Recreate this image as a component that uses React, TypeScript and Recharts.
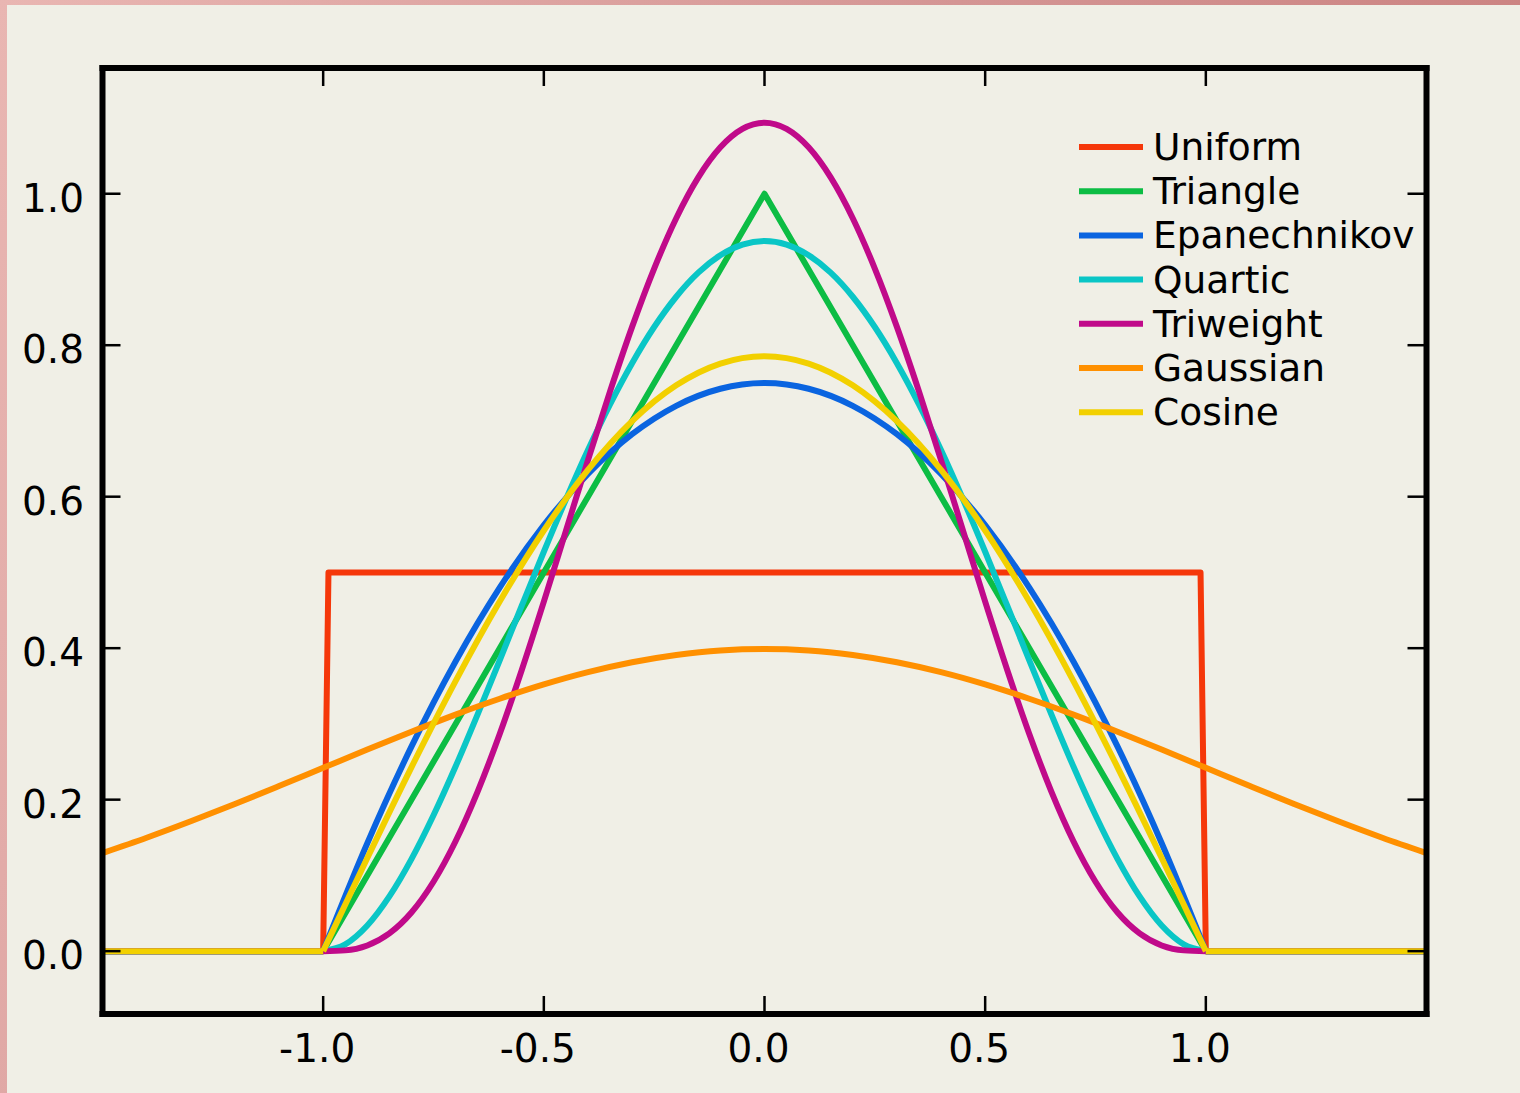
import React from 'react';
import { LineChart, Line, XAxis, YAxis, Legend } from 'recharts';

const X_INNER = [-1.0, -0.9, -0.8, -0.7, -0.6, -0.5, -0.4, -0.3, -0.2, -0.1, 0.0, 0.1, 0.2, 0.3, 0.4, 0.5, 0.6, 0.7, 0.8, 0.9, 1.0];
const TRIANGLE = [0, 0.1, 0.2, 0.3, 0.4, 0.5, 0.6, 0.7, 0.8, 0.9, 1.0, 0.9, 0.8, 0.7, 0.6, 0.5, 0.4, 0.3, 0.2, 0.1, 0];
const EPANECHNIKOV = [0, 0.1425, 0.27, 0.3825, 0.48, 0.5625, 0.63, 0.6825, 0.72, 0.7425, 0.75, 0.7425, 0.72, 0.6825, 0.63, 0.5625, 0.48, 0.3825, 0.27, 0.1425, 0];
const COSINE = [0, 0.1229, 0.2427, 0.3566, 0.4616, 0.5554, 0.6354, 0.6998, 0.747, 0.7757, 0.7854, 0.7757, 0.747, 0.6998, 0.6354, 0.5554, 0.4616, 0.3566, 0.2427, 0.1229, 0];

// the steeper bell kernels need a finer grid (every 0.05) to stay smooth near +-1
const X_FINE = [
  -1.0, -0.95, -0.9, -0.85, -0.8, -0.75, -0.7, -0.65, -0.6, -0.55, -0.5, -0.45, -0.4, -0.35, -0.3, -0.25, -0.2, -0.15, -0.1, -0.05,
  0.0, 0.05, 0.1, 0.15, 0.2, 0.25, 0.3, 0.35, 0.4, 0.45, 0.5, 0.55, 0.6, 0.65, 0.7, 0.75, 0.8, 0.85, 0.9, 0.95, 1.0,
];
const QUARTIC = [
  0, 0.0089, 0.0338, 0.0722, 0.1215, 0.1794, 0.2438, 0.3127, 0.384, 0.4561, 0.5273, 0.5963, 0.6615, 0.7219, 0.7763, 0.824, 0.864, 0.8958, 0.9188, 0.9328,
  0.9375, 0.9328, 0.9188, 0.8958, 0.864, 0.824, 0.7763, 0.7219, 0.6615, 0.5963, 0.5273, 0.4561, 0.384, 0.3127, 0.2438, 0.1794, 0.1215, 0.0722, 0.0338, 0.0089, 0,
];
const TRIWEIGHT = [
  0, 0.001, 0.0075, 0.0234, 0.051, 0.0916, 0.1451, 0.2107, 0.2867, 0.3712, 0.4614, 0.5548, 0.6483, 0.739, 0.8242, 0.9012, 0.9677, 1.0216, 1.0613, 1.0856,
  1.0938, 1.0856, 1.0613, 1.0216, 0.9677, 0.9012, 0.8242, 0.739, 0.6483, 0.5548, 0.4614, 0.3712, 0.2867, 0.2107, 0.1451, 0.0916, 0.051, 0.0234, 0.0075, 0.001, 0,
];

// gaussian covers the whole window
const X_GAUSS = [-1.5, -1.4, -1.3, -1.2, -1.1, -1.0, -0.9, -0.8, -0.7, -0.6, -0.5, -0.4, -0.3, -0.2, -0.1, 0.0, 0.1, 0.2, 0.3, 0.4, 0.5, 0.6, 0.7, 0.8, 0.9, 1.0, 1.1, 1.2, 1.3, 1.4, 1.5];
const GAUSSIAN = [0.1295, 0.1497, 0.1714, 0.1942, 0.2179, 0.242, 0.2661, 0.2897, 0.3123, 0.3332, 0.3521, 0.3683, 0.3814, 0.391, 0.397, 0.3989, 0.397, 0.391, 0.3814, 0.3683, 0.3521, 0.3332, 0.3123, 0.2897, 0.2661, 0.242, 0.2179, 0.1942, 0.1714, 0.1497, 0.1295];

// uniform box, edges slightly slanted like the original sampling
const X_UNIFORM = [-1.5, -1.0, -0.988, 0.988, 1.0, 1.5];
const UNIFORM = [0, 0, 0.5, 0.5, 0, 0];

// zero tails outside the support (null breaks the line)
const X_TAIL = [-1.5, -1.0, 0, 1.0, 1.5];
const TAIL = [0, 0, null, 0, 0];

const X_TICKS = [-1.0, -0.5, 0.0, 0.5, 1.0];
const Y_TICKS = [0.0, 0.2, 0.4, 0.6, 0.8, 1.0];

const FONT = '"DejaVu Sans", sans-serif';

const zip = (xs: number[], ys: (number | null)[]) => xs.map((x, i) => ({ x, y: ys[i] }));

const SERIES = [
  { name: 'Uniform', color: '#f5370a', data: zip(X_UNIFORM, UNIFORM), curve: 'linear', tail: false },
  { name: 'Triangle', color: '#0cbd44', data: zip(X_INNER, TRIANGLE), curve: 'linear', tail: true },
  { name: 'Epanechnikov', color: '#0a64e0', data: zip(X_INNER, EPANECHNIKOV), curve: 'monotone', tail: true },
  { name: 'Quartic', color: '#0ac6c6', data: zip(X_FINE, QUARTIC), curve: 'monotone', tail: true },
  { name: 'Triweight', color: '#c00a8a', data: zip(X_FINE, TRIWEIGHT), curve: 'monotone', tail: true },
  { name: 'Gaussian', color: '#ff9000', data: zip(X_GAUSS, GAUSSIAN), curve: 'monotone', tail: false },
  { name: 'Cosine', color: '#f2d000', data: zip(X_INNER, COSINE), curve: 'monotone', tail: true },
];

const tailData = zip(X_TAIL, TAIL);

const frame = { stroke: '#000', strokeWidth: 6, strokeLinecap: 'square' as const };

const BottomTick = (p: any) => (
  <g>
    <line x1={p.x} y1={p.y} x2={p.x} y2={p.y - 18} stroke="#000" strokeWidth={2.5} />
    <text x={p.x - 6} y={p.y + 48} textAnchor="middle" fontFamily={FONT} fontSize={39} fill="#000">
      {Number(p.payload.value).toFixed(1)}
    </text>
  </g>
);

const TopTick = (p: any) => (
  <line x1={p.x} y1={p.y} x2={p.x} y2={p.y + 18} stroke="#000" strokeWidth={2.5} />
);

const LeftTick = (p: any) => (
  <g>
    <line x1={p.x} y1={p.y} x2={p.x + 18} y2={p.y} stroke="#000" strokeWidth={2.5} />
    <text x={p.x - 18.5} y={p.y + 18} textAnchor="end" fontFamily={FONT} fontSize={39} fill="#000">
      {Number(p.payload.value).toFixed(1)}
    </text>
  </g>
);

const RightTick = (p: any) => (
  <line x1={p.x} y1={p.y} x2={p.x - 19} y2={p.y} stroke="#000" strokeWidth={2.5} />
);

const LegendBox = () => (
  <svg width={380} height={310}>
    {SERIES.map((s, i) => {
      const cy = 22 + i * 44.2;
      return (
        <g key={s.name}>
          <line x1={0} x2={64} y1={cy} y2={cy} stroke={s.color} strokeWidth={6} />
          <text x={74} y={cy + 13} fontFamily={FONT} fontSize={37.5} fill="#000">{s.name}</text>
        </g>
      );
    })}
  </svg>
);

export default function App() {
  return (
    <div
      style={{
        position: 'fixed', left: 0, top: 0, width: 1520, height: 1093, overflow: 'hidden',
        background: 'linear-gradient(110deg, #e9b6b2 0%, #d49594 50%, #c67876 100%)',
      }}
    >
      <div style={{ position: 'absolute', left: 7, top: 5, right: 0, bottom: 0, background: '#f0efe6' }} />
      <div style={{ position: 'absolute', left: 0, top: 0 }}>
        <LineChart width={1520} height={1093} margin={{ top: 0, right: 0, bottom: 0, left: 0 }}>
          <XAxis
            xAxisId="b" orientation="bottom" type="number" dataKey="x" domain={[-1.5, 1.5]} allowDataOverflow
            ticks={X_TICKS} interval={0} height={79} axisLine={frame} tickLine={false} tickSize={0} tickMargin={0}
            tick={(p: any) => <BottomTick {...p} />}
          />
          <XAxis
            xAxisId="t" orientation="top" type="number" dataKey="x" domain={[-1.5, 1.5]} allowDataOverflow
            ticks={X_TICKS} interval={0} height={68} axisLine={frame} tickLine={false} tickSize={0} tickMargin={0}
            tick={(p: any) => <TopTick {...p} />}
          />
          <YAxis
            yAxisId="l" orientation="left" type="number" domain={[-0.083, 1.166]} allowDataOverflow
            ticks={Y_TICKS} interval={0} width={102.5} axisLine={frame} tickLine={false} tickSize={0} tickMargin={0}
            tick={(p: any) => <LeftTick {...p} />}
          />
          <YAxis
            yAxisId="r" orientation="right" type="number" domain={[-0.083, 1.166]} allowDataOverflow
            ticks={Y_TICKS} interval={0} width={93.5} axisLine={frame} tickLine={false} tickSize={0} tickMargin={0}
            tick={(p: any) => <RightTick {...p} />}
          />
          {SERIES.flatMap((s) => {
            const out = [];
            if (s.tail) {
              out.push(
                <Line
                  key={s.name + '-tail'} xAxisId="b" yAxisId="l" data={tailData} dataKey="y" type="linear"
                  stroke={s.color} strokeWidth={6} dot={false} activeDot={false} legendType="none"
                  isAnimationActive={false}
                />
              );
            }
            out.push(
              <Line
                key={s.name} name={s.name} xAxisId="b" yAxisId="l" data={s.data} dataKey="y" type={s.curve as any}
                stroke={s.color} strokeWidth={6} strokeLinejoin="round" dot={false} activeDot={false}
                isAnimationActive={false}
              />
            );
            return out;
          })}
          <Legend
            layout="vertical" align="center" verticalAlign="middle"
            wrapperStyle={{ top: 125, left: 1079, width: 380, height: 310 }}
            content={() => <LegendBox />}
          />
        </LineChart>
      </div>
    </div>
  );
}
